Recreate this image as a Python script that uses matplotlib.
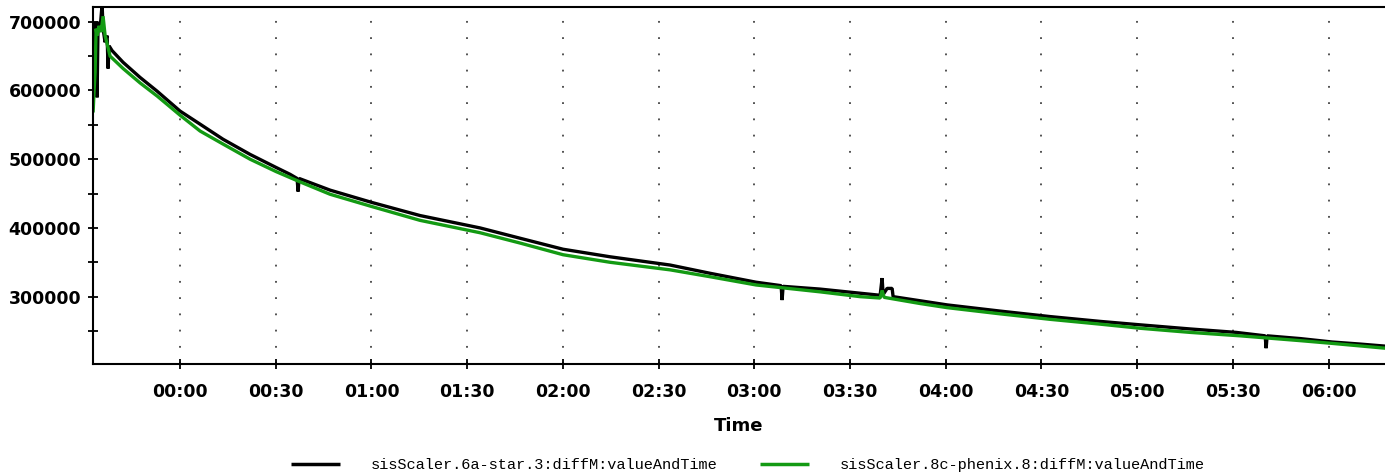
import numpy as np
import pandas as pd
import matplotlib
matplotlib.use("Agg")
import matplotlib.pyplot as plt
import matplotlib.dates as mdates
from matplotlib.ticker import MultipleLocator

# minutes relative to 00:00 (negative = before midnight)
black_min = [-27.27, -26.65, -26.33, -26.02, -25.71, -25.08, -24.45, -24.14, -23.51, -22.88,
             -22.57, -22.26, -21.32, -17.87, -12.54, -7.21, 0.0, 6.27, 13.48, 21.94,
             30.09, 34.48, 36.68, 36.99, 37.30, 47.02, 60.19, 75.24, 94.04, 106.58,
             120.06, 134.80, 153.61, 166.14, 180.56, 188.40, 188.71, 189.02, 200.62, 213.16,
             219.44, 220.06, 220.38, 221.63, 223.20, 223.51, 231.98, 240.44, 257.05, 272.73,
             288.40, 300.94, 316.61, 331.03, 340.13, 340.44, 340.75, 351.10, 361.13, 369.91,
             377.74]
black_val = [660000, 640000, 700000, 590000, 700000, 690000, 725000, 690000, 670000, 680000,
             632000, 665000, 658000, 641000, 619000, 599000, 570000, 551000, 529000, 507000,
             488000, 478000, 472000, 453000, 472000, 455000, 437000, 418000, 400000, 385000,
             369000, 358000, 346000, 334000, 321000, 316000, 295000, 315000, 311000, 305000,
             302000, 327000, 303000, 312000, 312000, 300000, 294000, 288000, 279000, 271000,
             264000, 259000, 253000, 248000, 243000, 225000, 243000, 239000, 234000, 231000,
             228000]

green_min = [-27.27, -26.96, -26.65, -26.33, -26.02, -25.39, -24.77, -24.14, -23.51, -21.94,
             -17.87, -12.54, -7.21, 0.0, 6.27, 13.48, 21.94, 30.09, 37.61, 47.02,
             60.19, 75.24, 94.04, 106.58, 120.06, 134.80, 153.61, 166.14, 180.56, 200.62,
             213.16, 219.44, 220.06, 220.69, 231.98, 240.44, 257.05, 272.73, 288.40, 300.94,
             316.61, 332.29, 351.10, 361.13, 377.74]
green_val = [568000, 600000, 626000, 690000, 680000, 694000, 685000, 708000, 680000, 650000,
             632000, 611000, 592000, 564000, 541000, 522000, 500000, 482000, 467000, 449000,
             431000, 411000, 393000, 378000, 361000, 350000, 339000, 329000, 317000, 307000,
             300000, 298000, 309000, 299000, 290000, 284000, 275000, 267000, 260000, 254000,
             248000, 243000, 236000, 232000, 225000]

labels = ["sisScaler.6a-star.3:diffM:valueAndTime",
          "sisScaler.8c-phenix.8:diffM:valueAndTime"]
colors = ["black", "#139a13"]

midnight = pd.Timestamp("2020-01-02 00:00")
def to_time(mins):
    return midnight + pd.to_timedelta(np.array(mins), unit="min")

fig = plt.figure(figsize=(13.85, 4.75), dpi=100)
ax = fig.add_axes([93 / 1385, 111 / 475, 1292 / 1385, 357 / 475])

l1, = ax.plot(to_time(black_min), black_val, color=colors[0], lw=2.4, label=labels[0],
              solid_joinstyle="bevel", solid_capstyle="butt")
l2, = ax.plot(to_time(green_min), green_val, color=colors[1], lw=2.4, label=labels[1],
              solid_joinstyle="bevel", solid_capstyle="butt")

ax.set_xlim(to_time([-27.3])[0], to_time([377.7])[0])
ax.set_ylim(202000, 721500)

ax.xaxis.set_major_locator(mdates.MinuteLocator(byminute=[0, 30]))
ax.xaxis.set_major_formatter(mdates.DateFormatter("%H:%M"))
ax.yaxis.set_major_locator(MultipleLocator(100000))
ax.yaxis.set_minor_locator(MultipleLocator(50000))
ax.yaxis.set_major_formatter(lambda v, p: f"{int(v)}")

ax.grid(axis="x", color="#444444", linestyle=(0, (1, 8)), lw=1.3)
ax.spines["right"].set_visible(False)
for s in ["left", "bottom", "top"]:
    ax.spines[s].set_linewidth(1.5)

ax.tick_params(axis="both", direction="inout", length=7, width=1.3, labelsize=12.5)
ax.tick_params(axis="y", which="minor", direction="inout", length=7, width=1.3)
ax.tick_params(axis="x", pad=10)
ax.tick_params(axis="y", pad=5)
for t in ax.get_xticklabels() + ax.get_yticklabels():
    t.set_fontweight("bold")

ax.set_xlabel("Time", fontsize=13, fontweight="bold", labelpad=12)

fig.legend(handles=[l1, l2], loc="center", bbox_to_anchor=(748 / 1385, 10 / 475),
           ncol=2, frameon=False, prop={"family": "Liberation Mono", "size": 11},
           handlelength=3.2, handletextpad=2.0, columnspacing=2.8)
for line in fig.legends[0].get_lines():
    line.set_linewidth(2.5)

fig.savefig("out.png", dpi=100)
